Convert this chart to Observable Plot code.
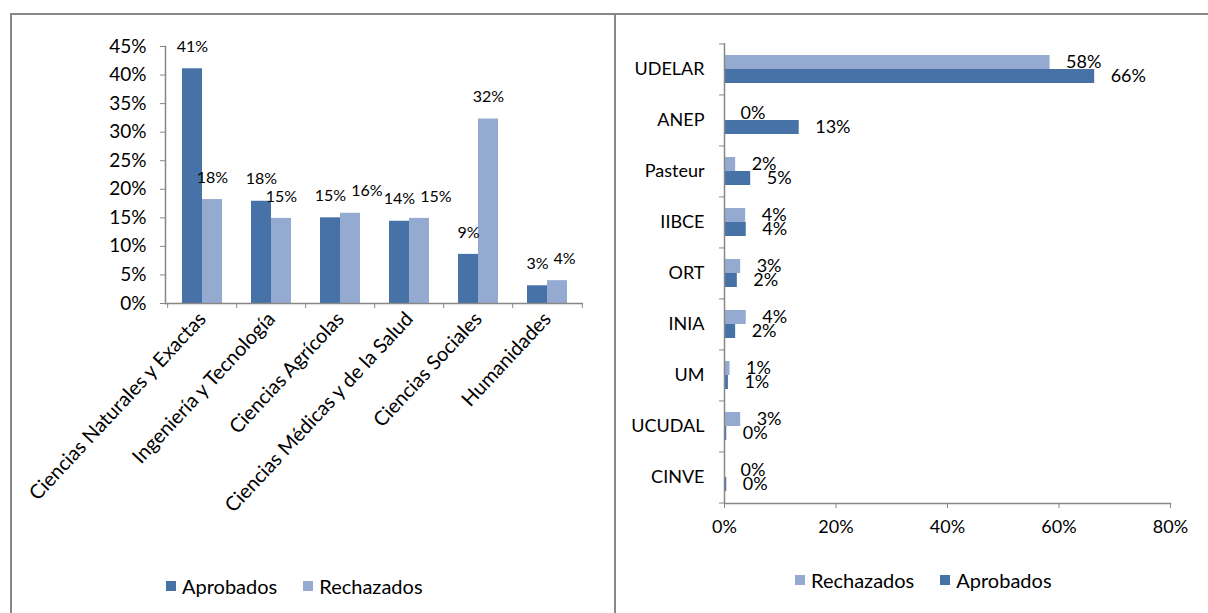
<!DOCTYPE html>
<html><head><meta charset="utf-8">
<script src="https://cdn.jsdelivr.net/npm/d3@7"></script>
<script src="https://cdn.jsdelivr.net/npm/@observablehq/plot@0.6"></script>
<style>
body{margin:0;background:#fff;font-family:Lato,"Open Sans",sans-serif;}
#wrap{position:relative;width:1208px;height:613px;overflow:hidden;background:#fff;}
.panel{position:absolute;border:2px solid #878787;box-sizing:border-box;}
.chart{position:absolute;top:0;}
.legend{position:absolute;display:flex;align-items:center;font-size:20px;color:#000;white-space:nowrap;}
.legend span.item{display:flex;align-items:center;}
.sw{display:inline-block;width:10px;height:10px;margin-right:6px;}
</style></head><body><div id="wrap">
<div class="panel" style="left:10px;top:13px;width:606px;height:700px;"></div>
<div class="panel" style="left:614px;top:13px;width:700px;height:700px;"></div>
<div id="left" class="chart" style="left:0px;"></div>
<div id="right" class="chart" style="left:614px;"></div>
<div id="legL" class="legend" style="left:166px;top:574px;"></div>
<div id="legR" class="legend" style="left:795px;top:568px;"></div>
</div>
<script>
// ---- data (left panel) ----
const fields = ["Ciencias Naturales y Exactas","Ingeniería y Tecnología","Ciencias Agrícolas","Ciencias Médicas y de la Salud","Ciencias Sociales","Humanidades"];
const fieldAprobados = [0.411, 0.179, 0.150, 0.144, 0.086, 0.031];
const fieldRechazados = [0.182, 0.149, 0.158, 0.149, 0.323, 0.040];
// ---- data (right panel) ----
const insts = ["UDELAR","ANEP","Pasteur","IIBCE","ORT","INIA","UM","UCUDAL","CINVE"];
const instRechazados = [0.584, 0.000, 0.020, 0.038, 0.029, 0.039, 0.010, 0.029, 0.000];
const instAprobados = [0.664, 0.134, 0.047, 0.039, 0.023, 0.020, 0.007, 0.004, 0.004];
const leftTicks = [0,0.05,0.10,0.15,0.20,0.25,0.30,0.35,0.40,0.45];
const rightTicks = [0,0.2,0.4,0.6,0.8];

const dark = "#4672A8", light = "#95AAD0", grey = "#878787";
const pct = d3.format(".0%");

// label collision shift (like the spreadsheet's automatic label placement)
const ctx = document.createElement("canvas").getContext("2d");
ctx.font = "16px Lato";
const tw = s => ctx.measureText(s).width;
const LH = 560, LMT = 46, LMB = 257;
const pxPerUnit = (LH - LMT - LMB) / 0.45;

const lApro = fields.map((f,i)=>({cat:f, value:fieldAprobados[i]}));
const lRech = fields.map((f,i)=>({cat:f, value:fieldRechazados[i]}));
lRech.forEach((d,i)=>{
  const a = lApro[i];
  const wa = tw(pct(a.value)), wr = tw(pct(d.value));
  const overlapX = (-10 + wa/2) - (10 - wr/2);
  const overlapY = Math.abs(a.value - d.value) * pxPerUnit < 16;
  d.shift = (overlapX > 0 && overlapY) ? overlapX + 5 : 0;
});
const rApro = insts.map((f,i)=>({cat:f, value:instAprobados[i]}));
const rRech = insts.map((f,i)=>({cat:f, value:instRechazados[i]}));

// left chart
const LW = 614, LML = 165, LMR = 31;
const lStep = (LW - LML - LMR) / fields.length;
const left = Plot.plot({
  width: LW, height: LH, marginLeft: LML, marginRight: LMR, marginTop: LMT, marginBottom: LMB,
  style: {fontFamily: "Lato, sans-serif", fontSize: "19px", color: "#000", background: "transparent"},
  x: {domain: fields, paddingInner: 0.426, paddingOuter: 0.213, label: null},
  y: {domain: [0, 0.45], label: null},
  marks: [
    Plot.barY(lApro, {x: "cat", y: "value", fill: dark, insetRight: 20}),
    Plot.barY(lRech, {x: "cat", y: "value", fill: light, insetLeft: 20}),
    Plot.text(lApro, {x: "cat", y: "value", text: d => pct(d.value), dx: -10, dy: -22, fontSize: 16}),
    ...lRech.map(d => Plot.text([d], {x: "cat", y: "value", text: d => pct(d.value), dx: 10 + d.shift, dy: -22, fontSize: 16})),
    Plot.ruleY([0], {stroke: grey, strokeWidth: 1.5}),
    Plot.frame({anchor: "left", stroke: grey, strokeWidth: 1.5}),
    Plot.axisY({ticks: leftTicks, tickFormat: pct, tickSize: 5, tickPadding: 14, stroke: grey}),
    Plot.axisX({tickSize: 5, tickFormat: () => "", dx: -lStep/2, stroke: grey}),
    Plot.axisX({ticks: [fields[fields.length-1]], tickSize: 5, tickFormat: () => "", dx: lStep/2, stroke: grey}),
    Plot.axisX({tickSize: 0, tickRotate: -47, tickPadding: 12, fontSize: 20})
  ]
});
document.getElementById("left").append(left);

// right chart
const RW = 594, RH = 560, RMT = 43, RMB = 57;
const rStep = (RH - RMT - RMB) / insts.length;
const right = Plot.plot({
  width: RW, height: RH, marginLeft: 110, marginRight: 38, marginTop: RMT, marginBottom: RMB,
  style: {fontFamily: "Lato, sans-serif", fontSize: "18px", color: "#000", background: "transparent"},
  x: {domain: [0, 0.8], label: null},
  y: {domain: insts, paddingInner: 0.452, paddingOuter: 0.226, label: null},
  marks: [
    Plot.barX(rRech, {y: "cat", x: "value", fill: light, insetBottom: 14}),
    Plot.barX(rApro, {y: "cat", x: "value", fill: dark, insetTop: 14}),
    Plot.text(rRech, {y: "cat", x: "value", text: d => pct(d.value), dx: 16, dy: -7, textAnchor: "start", fontSize: 18}),
    Plot.text(rApro, {y: "cat", x: "value", text: d => pct(d.value), dx: 16, dy: 7, textAnchor: "start", fontSize: 18}),
    Plot.ruleX([0], {stroke: grey, strokeWidth: 1.5}),
    Plot.frame({anchor: "bottom", stroke: grey, strokeWidth: 1.5}),
    Plot.axisX({ticks: rightTicks, tickFormat: pct, tickSize: 5, tickPadding: 12, stroke: grey}),
    Plot.axisY({tickSize: 0, tickPadding: 20}),
    Plot.axisY({tickSize: 5, tickFormat: () => "", dy: -rStep/2, stroke: grey}),
    Plot.axisY({ticks: [insts[insts.length-1]], tickSize: 5, tickFormat: () => "", dy: rStep/2, stroke: grey})
  ]
});
document.getElementById("right").append(right);

function legend(el, items){
  const box = document.getElementById(el);
  items.forEach(([name,color],i)=>{
    const s = document.createElement("span"); s.className="item";
    if(i>0) s.style.marginLeft = "26px";
    s.innerHTML = `<i class="sw" style="background:${color}"></i>${name}`;
    box.append(s);
  });
}
legend("legL", [["Aprobados", dark], ["Rechazados", light]]);
legend("legR", [["Rechazados", light], ["Aprobados", dark]]);
</script>
</body></html>
